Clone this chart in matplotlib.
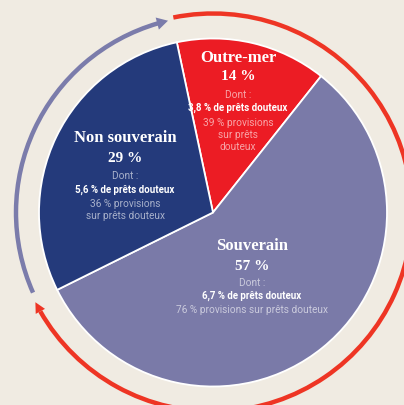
import matplotlib
matplotlib.use("Agg")
import matplotlib.pyplot as plt
import numpy as np
from matplotlib.patches import Arc

# données du graphique
categories = ["Outre-mer", "Souverain", "Non souverain"]
parts = [14, 57, 29]
parts_txt = ["14 %", "57 %", "29 %"]
douteux = ["3,8 % de prêts douteux", "6,7 % de prêts douteux", "5,6 % de prêts douteux"]
provisions = ["39 % provisions\nsur prêts\ndouteux",
              "76 % provisions sur prêts douteux",
              "36 % provisions\nsur prêts douteux"]
couleurs = ["#ec1c24", "#7a7aa8", "#243a7b"]

fond = "#f0ebe2"
rouge_arc = "#ee3524"
violet_arc = "#7b7cab"

fig = plt.figure(figsize=(4.04, 4.06), dpi=100, facecolor=fond)
ax = fig.add_axes([0, 0, 1, 1])
ax.set_facecolor(fond)

cx, cy = 213, 192.5
ax.pie(parts, colors=couleurs, startangle=102, counterclock=False,
       radius=174, center=(cx, cy),
       wedgeprops=dict(edgecolor="white", linewidth=1.3))

# arcs extérieurs avec flèches (sens horaire)
def arc_fleche(r, a_debut, a_fin, couleur, lw, tete):
    # a_debut > a_fin : on tourne dans le sens horaire
    recul = 3.0
    ax.add_patch(Arc((cx, cy), 2 * r, 2 * r, theta1=a_fin + recul, theta2=a_debut,
                     color=couleur, lw=lw))
    t0 = np.radians(a_fin + recul + 0.5)
    t1 = np.radians(a_fin)
    ax.annotate("", xy=(cx + r * np.cos(t1), cy + r * np.sin(t1)),
                xytext=(cx + r * np.cos(t0), cy + r * np.sin(t0)),
                arrowprops=dict(arrowstyle=tete, color=couleur, lw=0,
                                shrinkA=0, shrinkB=0))

arc_fleche(199, 101.5, -153.2, rouge_arc, 3.2, "-|>,head_length=0.75,head_width=0.38")
arc_fleche(197, 204.0, 103.2, violet_arc, 3.2, "-|>,head_length=0.8,head_width=0.45")

# textes
serif = "Liberation Serif"
sans = ["Roboto", "DejaVu Sans"]
pos = {
    "Outre-mer": (238, [58, 77, 95, 108, 135]),
    "Souverain": (252, [246, 267, 283, 296, 310]),
    "Non souverain": (125, [138, 159, 176, 190, 210]),
}
for i, cat in enumerate(categories):
    x, ys = pos[cat]
    ax.text(x, 406 - ys[0], cat, ha="center", va="center", color="white",
            family=serif, weight="bold", fontsize=12)
    ax.text(x, 406 - ys[1], parts_txt[i], ha="center", va="center", color="white",
            family=serif, weight="bold", fontsize=11)
    ax.text(x, 406 - ys[2], "Dont :", ha="center", va="center", color="white",
            alpha=0.6, family=sans, fontsize=7.3)
    ax.text(x, 406 - ys[3], douteux[i], ha="center", va="center", color="white",
            family=sans, weight="bold", fontsize=7)
    ax.text(x, 406 - ys[4], provisions[i], ha="center", va="center", color="white",
            alpha=0.6, family=sans, fontsize=7.3, linespacing=1.2)

ax.set_xlim(0, 404)
ax.set_ylim(0, 406)
ax.set_aspect("equal")
ax.axis("off")

fig.savefig("out.png", dpi=100, facecolor=fond)
